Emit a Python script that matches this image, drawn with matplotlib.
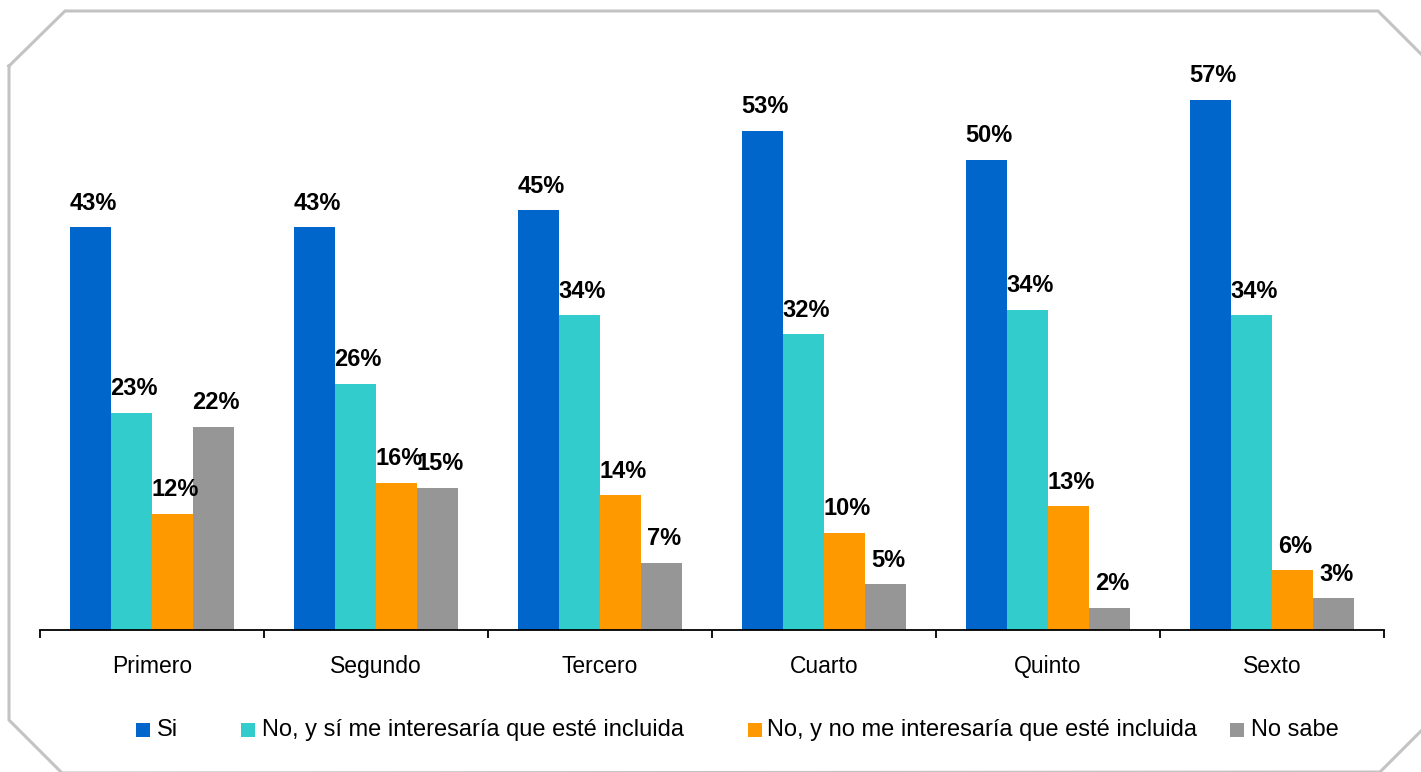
import matplotlib
matplotlib.use("Agg")
import matplotlib.pyplot as plt
from matplotlib.lines import Line2D
from matplotlib.patches import Rectangle
import numpy as np

plt.rcParams['font.family'] = ['Liberation Sans', 'DejaVu Sans']

categories = ["Primero", "Segundo", "Tercero", "Cuarto", "Quinto", "Sexto"]
series_names = ["Si",
                "No, y sí me interesaría que esté incluida",
                "No, y no me interesaría que esté incluida",
                "No sabe"]
si = [43.0, 43.0, 44.8, 53.3, 50.2, 56.6]
si_interesaria = [23.2, 26.3, 33.6, 31.6, 34.2, 33.6]
no_interesaria = [12.4, 15.7, 14.4, 10.4, 13.2, 6.4]
no_sabe = [21.7, 15.2, 7.2, 4.9, 2.4, 3.4]
series_values = [si, si_interesaria, no_interesaria, no_sabe]
colors = ["#0066CC", "#33CCCC", "#FF9900", "#969696"]

W, H = 1421, 772
fig = plt.figure(figsize=(W / 100, H / 100), dpi=100)
fig.patch.set_facecolor("white")

# axes geometry in pixels
ax_left, ax_right, base_y, top_y = 40, 1384, 630, 68
ax = fig.add_axes([ax_left / W, 1 - base_y / H, (ax_right - ax_left) / W, (base_y - top_y) / H])

x = np.arange(len(categories))
bw = 0.183
offsets = [-1.5, -0.5, 0.5, 1.5]
for vals, col, off, name in zip(series_values, colors, offsets, series_names):
    ax.bar(x + off * bw, vals, width=bw, color=col, label=name, zorder=2)
    for xi, v in zip(x + off * bw, vals):
        ax.annotate(f"{v:.0f}%", xy=(xi, v), xytext=(2, 9), textcoords="offset points",
                    ha="center", va="bottom", fontsize=17, fontweight="bold", color="black")

ax.set_xlim(-0.5, len(categories) - 0.5)
ax.set_ylim(0, 60)
for s in ["top", "right", "left"]:
    ax.spines[s].set_visible(False)
ax.spines["bottom"].set_color("black")
ax.spines["bottom"].set_linewidth(1.3)
ax.set_yticks([])
ax.set_xticks(np.arange(len(categories) + 1) - 0.5)
ax.set_xticklabels([])
ax.tick_params(axis="x", which="major", direction="out", length=6, width=1.3, color="black")
ax.set_xticks(x, minor=True)
ax.set_xticklabels(categories, minor=True, fontsize=16.5)
ax.tick_params(axis="x", which="minor", length=0, pad=18)

# legend (manual placement)
leg_y = 730
marker_x = [136, 241, 748, 1230]
text_x = [157, 262, 767, 1251]
for mx, tx, col, name in zip(marker_x, text_x, colors, series_names):
    fig.add_artist(Rectangle((mx / W, 1 - (leg_y + 7) / H), 14 / W, 14 / H,
                             transform=fig.transFigure, facecolor=col, edgecolor="none"))
    fig.text(tx / W, 1 - leg_y / H, name, ha="left", va="center", fontsize=17, color="black")

# frame with cut corners
px = [9, 65, 1378, 1440, 1440, 1380, 62, 9, 9]
py = [66, 11, 11, 73, 712, 772, 773, 720, 66]
fig.add_artist(Line2D([p / W for p in px], [1 - p / H for p in py], transform=fig.transFigure,
                      color="#C3C3C3", linewidth=2.2, solid_joinstyle="miter"))

fig.savefig("out.png", dpi=100, facecolor="white")
